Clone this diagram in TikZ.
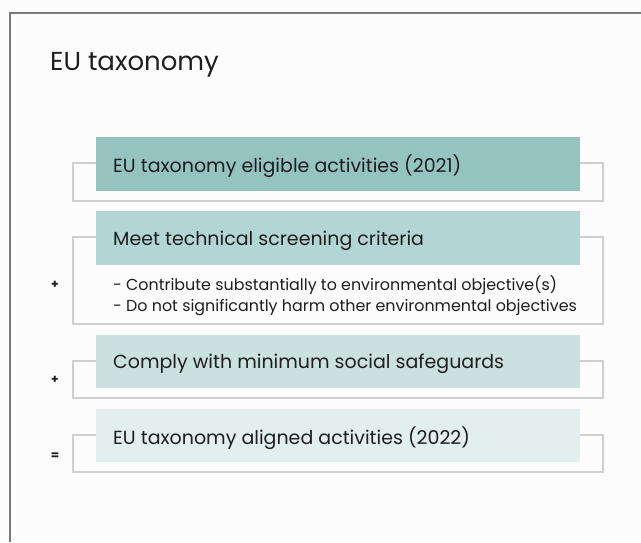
\documentclass[tikz,border=0pt]{standalone}
\usepackage{fontspec}
\setmainfont{Poppins}
\definecolor{bg}{HTML}{FCFCFC}
\definecolor{frameln}{HTML}{7A7A7A}
\definecolor{outl}{HTML}{CFCFCF}
\definecolor{fillA}{HTML}{94C3C0}
\definecolor{fillB}{HTML}{B3D5D3}
\definecolor{fillC}{HTML}{CBE1E0}
\definecolor{fillD}{HTML}{E3EEEF}
\definecolor{txt}{HTML}{1E1E1E}
\tikzset{
  outbox/.style={draw=outl, line width=1.2pt, fill=bg},
  lbl/.style={anchor=west, inner sep=0pt, text=txt, font=\fontsize{19}{22}\selectfont},
  small/.style={anchor=west, inner sep=0pt, text=txt, align=left, font=\fontsize{15.9}{21}\selectfont},
  op/.style={inner sep=0pt, text=txt, font=\fontsize{12}{12}\selectfont\bfseries}
}
\begin{document}
\begin{tikzpicture}[x=1pt,y=-1pt]
\useasboundingbox (0,0) rectangle (641,542);
\fill[bg] (0,0) rectangle (641,542);
\draw[frameln, line width=1.3pt] (10,542) -- (10,13) -- (641,13);
\node[lbl, font=\fontsize{26}{30}\selectfont] (title) at (50,65) {EU taxonomy};
% box 1
\draw[outbox] (73,163) rectangle (603,201);
\fill[fillA] (96,137) rectangle (580,191);
\node[lbl] (t1) at (113,166) {EU taxonomy eligible activities (2021)};
% box 2
\draw[outbox] (73,237) rectangle (603,324);
\fill[fillB] (96,211) rectangle (580,265);
\node[lbl] (t2) at (113,241) {Meet technical screening criteria};
\node[small] (t2b) at (113,295.5) {- Contribute substantially to environmental objective(s)\\- Do not significantly harm other environmental objectives};
\node[op] (plus1) at (55,285) {+};
% box 3
\draw[outbox] (73,361) rectangle (603,398);
\fill[fillC] (96,335) rectangle (580,388);
\node[lbl] (t3) at (113,364) {Comply with minimum social safeguards};
\node[op] (plus2) at (55,380) {+};
% box 4
\draw[outbox] (73,435) rectangle (603,472);
\fill[fillD] (96,409) rectangle (580,462);
\node[lbl] (t4) at (113,438) {EU taxonomy aligned activities (2022)};
\node[op] (eq) at (55,456) {=};
\end{tikzpicture}
\end{document}
